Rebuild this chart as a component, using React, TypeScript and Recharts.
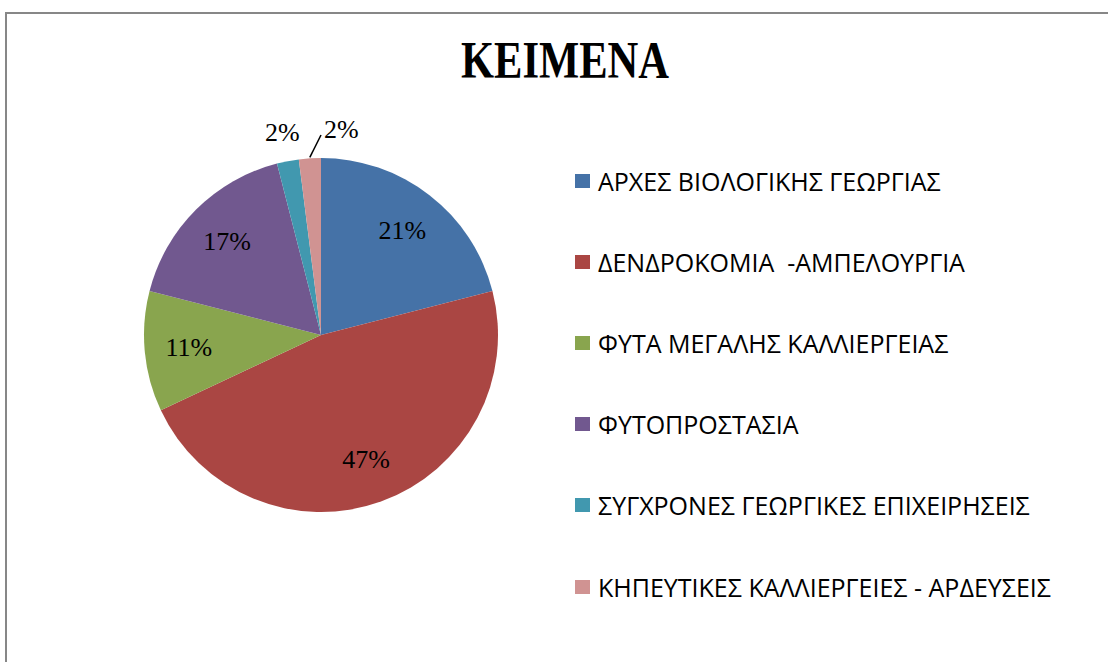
import { PieChart, Pie, Cell, Legend } from "recharts";

const categories = [
  "ΑΡΧΕΣ ΒΙΟΛΟΓΙΚΗΣ ΓΕΩΡΓΙΑΣ",
  "ΔΕΝΔΡΟΚΟΜΙΑ  -ΑΜΠΕΛΟΥΡΓΙΑ",
  "ΦΥΤΑ ΜΕΓΑΛΗΣ ΚΑΛΛΙΕΡΓΕΙΑΣ",
  "ΦΥΤΟΠΡΟΣΤΑΣΙΑ",
  "ΣΥΓΧΡΟΝΕΣ ΓΕΩΡΓΙΚΕΣ ΕΠΙΧΕΙΡΗΣΕΙΣ",
  "ΚΗΠΕΥΤΙΚΕΣ ΚΑΛΛΙΕΡΓΕΙΕΣ - ΑΡΔΕΥΣΕΙΣ",
];
const values = [21, 47, 11, 17, 2, 2];
const colors = ["#4572A7", "#AA4643", "#89A54E", "#71588F", "#4198AF", "#D09392"];
const title = "ΚΕΙΜΕΝΑ";

const data = categories.map((name, i) => ({ name, value: values[i] }));

const RAD = Math.PI / 180;

function renderLabel(props: any) {
  const { cx, cy, midAngle, outerRadius, percent, index } = props;
  const text = `${Math.round(percent * 100)}%`;
  const pt = (r: number, a: number) => ({
    x: cx + r * Math.cos(-a * RAD),
    y: cy + r * Math.sin(-a * RAD),
  });
  const font = { fontFamily: "'Liberation Serif', serif", fontSize: 26, fill: "#000" };

  if (percent >= 0.05) {
    const p = pt(outerRadius * 0.75, midAngle);
    return (
      <text x={p.x} y={p.y} textAnchor="middle" dominantBaseline="central" style={font}>
        {text}
      </text>
    );
  }
  if (index === values.length - 1) {
    // last small slice: pulled aside with a leader line
    const a = pt(outerRadius + 1, midAngle);
    const b = pt(outerRadius + 23, midAngle - 3.6);
    return (
      <g>
        <line x1={a.x} y1={a.y} x2={b.x} y2={b.y} stroke="#000" strokeWidth={1.5} />
        <text x={b.x + 3} y={b.y - 6} textAnchor="start" dominantBaseline="central" style={font}>
          {text}
        </text>
      </g>
    );
  }
  const p = pt(outerRadius + 29, midAngle);
  return (
    <text x={p.x} y={p.y} textAnchor="middle" dominantBaseline="central" style={font}>
      {text}
    </text>
  );
}

function LegendList() {
  return (
    <div>
      {data.map((d, i) => (
        <div
          key={d.name}
          style={{ height: 81.2, display: "flex", alignItems: "center", whiteSpace: "nowrap" }}
        >
          <span
            style={{ width: 15, height: 14, background: colors[i], display: "inline-block", marginRight: 8 }}
          />
          <span style={{ fontFamily: "'Open Sans', sans-serif", fontSize: 25, color: "#000", whiteSpace: "pre" }}>
            {d.name}
          </span>
        </div>
      ))}
    </div>
  );
}

export default function App() {
  return (
    <div
      style={{
        position: "absolute",
        left: 0,
        top: 0,
        width: 1108,
        height: 662,
        overflow: "hidden",
        background: "#fff",
      }}
    >
      <div
        style={{
          position: "absolute",
          left: 5,
          top: 12,
          width: 1200,
          height: 700,
          border: "2px solid #878787",
        }}
      />
      <svg style={{ position: "absolute", left: 0, top: 0 }} width={1108} height={662}>
        <text
          x={565}
          y={78}
          textAnchor="middle"
          textLength={208}
          lengthAdjust="spacingAndGlyphs"
          style={{ fontFamily: "'Liberation Serif', serif", fontWeight: "bold", fontSize: 53, fill: "#000" }}
        >
          {title}
        </text>
      </svg>
      <div style={{ position: "absolute", left: 0, top: 0 }}>
        <PieChart width={1108} height={662} margin={{ top: 0, right: 0, bottom: 0, left: 0 }}>
          <Pie
            data={data}
            dataKey="value"
            nameKey="name"
            cx={321}
            cy={335}
            outerRadius={177}
            startAngle={90}
            endAngle={-270}
            stroke="none"
            label={renderLabel}
            labelLine={false}
            isAnimationActive={false}
          >
            {data.map((d, i) => (
              <Cell key={d.name} fill={colors[i]} />
            ))}
          </Pie>
          <Legend
            layout="vertical"
            align="right"
            verticalAlign="top"
            content={() => <LegendList />}
            wrapperStyle={{ left: 575, top: 140, width: 530 }}
          />
        </PieChart>
      </div>
    </div>
  );
}
